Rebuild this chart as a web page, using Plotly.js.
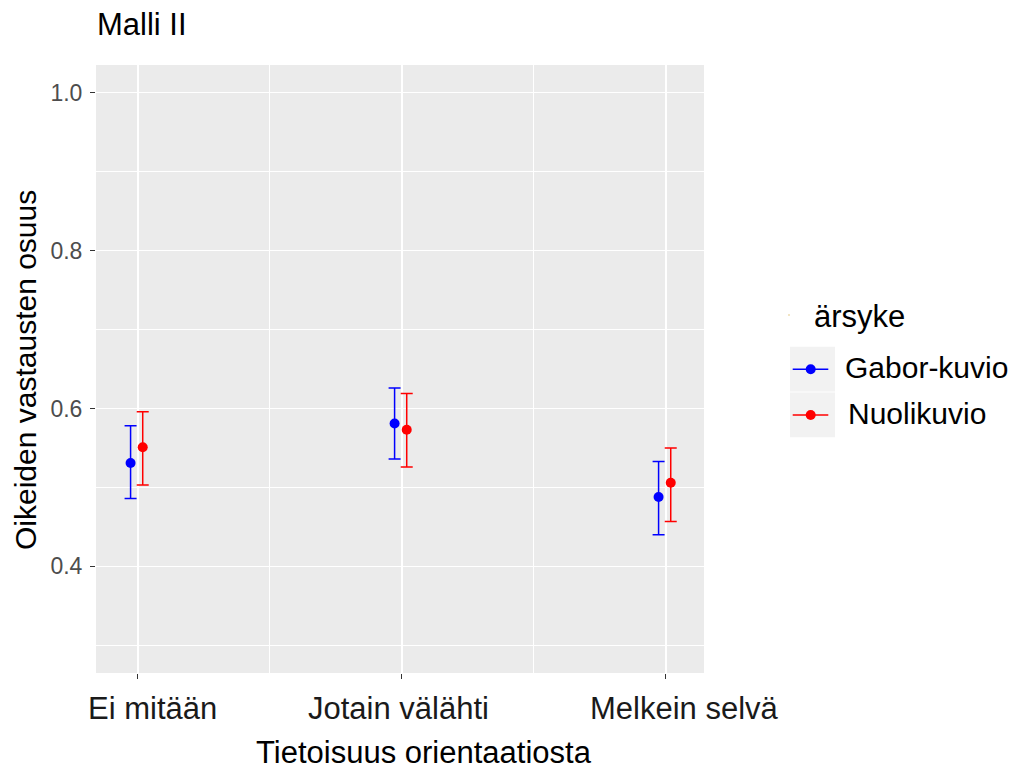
<!DOCTYPE html>
<html>
<head>
<meta charset="utf-8">
<script src="https://cdn.plot.ly/plotly-3.0.1.min.js"></script>
<style>
  html, body { margin: 0; padding: 0; background: #ffffff; }
  #chart { width: 1022px; height: 771px; }
</style>
</head>
<body>
<div id="chart"></div>
<script>
// Categories on the x axis
const categories = ['Ei mitään', 'Jotain välähti', 'Melkein selvä'];

// Stimulus series (legend entries)
const seriesNames = ['Gabor-kuvio', 'Nuolikuvio'];
const legendTitle = 'ärsyke';

// Gabor-kuvio: estimate with lower / upper interval limits
const gaborMean = [0.531, 0.581, 0.488];
const gaborLow  = [0.486, 0.536, 0.440];
const gaborHigh = [0.578, 0.626, 0.533];

// Nuolikuvio: estimate with lower / upper interval limits
const nuoliMean = [0.551, 0.573, 0.506];
const nuoliLow  = [0.503, 0.526, 0.457];
const nuoliHigh = [0.596, 0.619, 0.550];

// Axis ticks
const yTicks = [0.4, 0.6, 0.8, 1.0];
const yMinorTicks = [0.3, 0.5, 0.7, 0.9];

const plotTitle = 'Malli II';
const xTitle = 'Tietoisuus orientaatiosta';
const yTitle = 'Oikeiden vastausten osuus';

// ---- geometry of the page ----
const W = 1022, H = 771;
const L = 96, R = 704, T = 65, B = 673;
const px = x => (x - L) / (R - L);
const py = y => (B - y) / (B - T);

const FONT = 'Liberation Sans, Arial, Helvetica, sans-serif';
const colors = ['#0000FF', '#FF0000'];
const dodge = [-0.027, 0.019];

function seriesTrace(name, mean, low, high, color, offset) {
  return {
    type: 'scatter',
    mode: 'markers',
    name: name,
    x: categories.map((c, i) => i + offset),
    y: mean,
    marker: { color: color, size: 10 },
    error_y: {
      type: 'data',
      symmetric: false,
      array: high.map((h, i) => h - mean[i]),
      arrayminus: low.map((l, i) => mean[i] - l),
      color: color,
      thickness: 1.5,
      width: 6
    },
    showlegend: false,
    hoverinfo: 'x+y'
  };
}

const data = [
  seriesTrace(seriesNames[0], gaborMean, gaborLow, gaborHigh, colors[0], dodge[0]),
  seriesTrace(seriesNames[1], nuoliMean, nuoliLow, nuoliHigh, colors[1], dodge[1])
];

// category labels under the panel
const labelShift = [15, -3, 19];
const annotations = categories.map((c, i) => ({
  text: c, x: i, xref: 'x', y: py(708), yref: 'paper',
  xanchor: 'center', yanchor: 'middle', xshift: labelShift[i],
  showarrow: false, font: { family: FONT, size: 31, color: '#1a1a1a' }
}));

annotations.push(
  { text: plotTitle, x: px(95), y: py(24), xref: 'paper', yref: 'paper',
    xanchor: 'left', yanchor: 'middle', showarrow: false,
    font: { family: FONT, size: 31, color: '#000000' } },
  { text: xTitle, x: px(424), y: py(752), xref: 'paper', yref: 'paper',
    xanchor: 'center', yanchor: 'middle', showarrow: false,
    font: { family: FONT, size: 31, color: '#000000' } },
  { text: yTitle, x: px(25), y: py(370), xref: 'paper', yref: 'paper',
    xanchor: 'center', yanchor: 'middle', textangle: -90, showarrow: false,
    font: { family: FONT, size: 30, color: '#000000' } },
  { text: legendTitle, x: px(812), y: py(316.5), xref: 'paper', yref: 'paper',
    xanchor: 'left', yanchor: 'middle', showarrow: false,
    font: { family: FONT, size: 31, color: '#000000' } }
);

// legend keys
const keyCenters = [369.2, 415];
const textLeft = [843, 846];
const shapes = [
  { type: 'circle', xref: 'paper', yref: 'paper', xsizemode: 'pixel', ysizemode: 'pixel',
    xanchor: px(789), yanchor: py(315), x0: -1, x1: 1, y0: -1, y1: 1,
    fillcolor: '#eedcb0', line: { width: 0 } }
];
seriesNames.forEach((n, k) => {
  const cy = keyCenters[k];
  shapes.push(
    { type: 'rect', xref: 'paper', yref: 'paper', x0: px(790), x1: px(835),
      y0: py(cy - 22.5), y1: py(cy + 22.2), fillcolor: '#F2F2F2', line: { width: 0 }, layer: 'below' },
    { type: 'line', xref: 'paper', yref: 'paper', x0: px(792.7), x1: px(828.3),
      y0: py(cy), y1: py(cy), line: { color: colors[k], width: 1.5 } },
    { type: 'circle', xref: 'paper', yref: 'paper', xsizemode: 'pixel', ysizemode: 'pixel',
      xanchor: px(810.7), yanchor: py(cy), x0: -5, x1: 5, y0: -5, y1: 5,
      fillcolor: colors[k], line: { width: 0 } }
  );
  annotations.push({
    text: n, x: px(textLeft[k]), y: py(cy - 1.7), xref: 'paper', yref: 'paper',
    xanchor: 'left', yanchor: 'middle', showarrow: false,
    font: { family: FONT, size: 30, color: '#000000' }
  });
});

const layout = {
  width: W, height: H,
  margin: { l: L, r: W - R, t: T, b: H - B, pad: 0 },
  paper_bgcolor: '#ffffff',
  plot_bgcolor: '#EBEBEB',
  showlegend: false,
  font: { family: FONT },
  xaxis: {
    range: [-0.158, 2.145],
    tickvals: categories.map((c, i) => i),
    showticklabels: false,
    ticks: 'outside', ticklen: 5, tickwidth: 1.4, tickcolor: '#333333',
    showgrid: true, gridcolor: '#ffffff', gridwidth: 1.6,
    zeroline: false, showline: false,
    minor: { tickvals: [0.5, 1.5], showgrid: true, gridcolor: '#ffffff', gridwidth: 1.3, ticks: '' },
    fixedrange: true
  },
  yaxis: {
    range: [0.265, 1.035],
    tickvals: yTicks,
    ticktext: yTicks.map(v => v.toFixed(1)),
    tickfont: { family: FONT, size: 23, color: '#4D4D4D' },
    ticks: 'outside', ticklen: 5, tickwidth: 1.4, tickcolor: '#333333',
    ticklabelstandoff: 3,
    showgrid: true, gridcolor: '#ffffff', gridwidth: 1.6,
    zeroline: false, showline: false,
    minor: { tickvals: yMinorTicks, showgrid: true, gridcolor: '#ffffff', gridwidth: 1.3, ticks: '' },
    fixedrange: true
  },
  annotations: annotations,
  shapes: shapes
};

Plotly.newPlot('chart', data, layout, { displayModeBar: false, staticPlot: true });
</script>
</body>
</html>
